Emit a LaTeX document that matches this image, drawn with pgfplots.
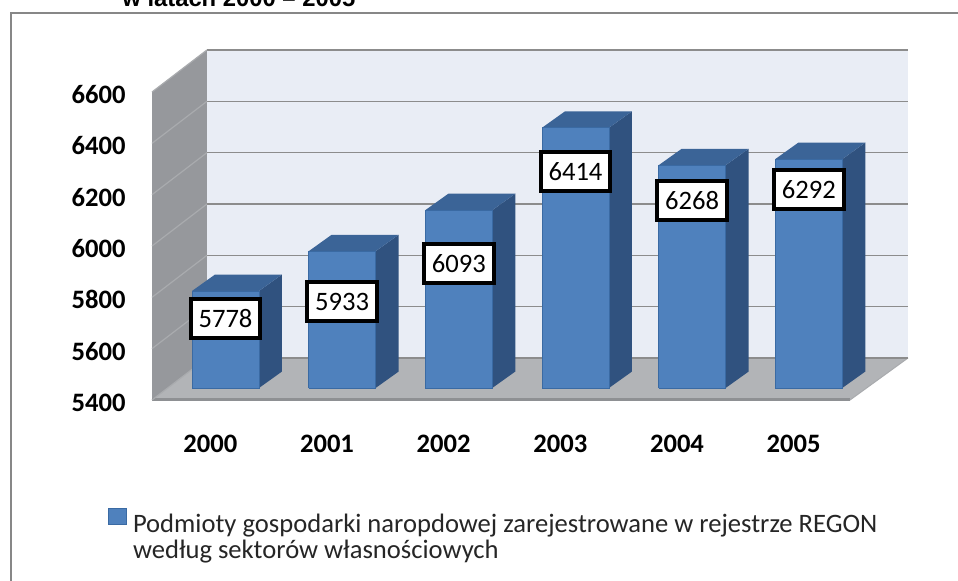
\documentclass[border=0pt]{standalone}
\usepackage{pgfplots}
\pgfplotsset{compat=1.18}
\usepackage{pgfplotstable}
\usepackage{fontspec}
\setmainfont{Carlito}
\newfontfamily\titlefont{Liberation Sans}

\definecolor{backwall}{HTML}{E9EDF5}
\definecolor{leftwall}{HTML}{96989C}
\definecolor{leftgrid}{HTML}{A9ABAE}
\definecolor{floorgray}{HTML}{B2B4B7}
\definecolor{flooredge}{HTML}{8E9093}
\definecolor{gridc}{HTML}{8C8C8C}
\definecolor{barfront}{HTML}{4F81BD}
\definecolor{barside}{HTML}{30527F}
\definecolor{bartop}{HTML}{3B6497}
\definecolor{barfrontdark}{HTML}{3A6AA3}
\definecolor{framegray}{HTML}{878787}
\definecolor{legtext}{HTML}{262626}

\pgfplotstableread{
x year v ly
0 2000 5778 5716
1 2001 5933 5782
2 2002 6093 5930
3 2003 6414 6291
4 2004 6268 6176
5 2005 6292 6219
}\data

% 3D bar: #1 = category index, #2 = value
\newcommand\barthreeD[2]{%
  \pgfmathsetmacro\xl{#1-0.157}%
  \pgfmathsetmacro\xr{#1+0.417}%
  \pgfmathsetmacro\xrr{#1+0.614}%
  \pgfmathsetmacro\xll{#1+0.040}%
  \pgfmathsetmacro\yt{#2+46.8}%
  \pgfmathsetmacro\ytt{#2+46.8+64}%
  \edef\tmp{%
    \noexpand\addplot[fill=barside, draw=none, forget plot] coordinates {(\xr,5446.8) (\xrr,5510.8) (\xrr,\ytt) (\xr,\yt) (\xr,5446.8)};
    \noexpand\addplot[fill=bartop, draw=none, forget plot] coordinates {(\xl,\yt) (\xr,\yt) (\xrr,\ytt) (\xll,\ytt) (\xl,\yt)};
    \noexpand\addplot[fill=barfront, draw=barfrontdark, line width=0.4pt, forget plot] coordinates {(\xl,5446.8) (\xr,5446.8) (\xr,\yt) (\xl,\yt) (\xl,5446.8)};
  }\tmp}

\begin{document}
\begin{tikzpicture}
\useasboundingbox (-76pt,-90.5pt) rectangle (403pt,200pt);
\clip (-76pt,-90.5pt) rectangle (403pt,200pt);
\fill[white] (-76pt,-90.5pt) rectangle (403pt,200pt);
\draw[framegray, line width=1.2pt] (-70.5pt,-130pt) -- (-70.5pt,193.5pt) -- (440pt,193.5pt);
\node[anchor=base west, inner sep=0pt, font=\titlefont\fontsize{11.9}{13}\selectfont\bfseries] at (-15pt,196.5pt) {w latach 2000 – 2005};
\begin{axis}[
  at={(0pt,0pt)}, anchor=south west,
  scale only axis, width=378pt, height=175pt,
  xmin=-0.5, xmax=5.98, ymin=5400, ymax=6763.8,
  clip=false,
  axis line style={draw=none},
  major tick length=0pt,
  ytick={5400,5600,...,6600},
  xtick={0,...,5},
  xticklabels from table={\data}{year},
  /pgf/number format/1000 sep={},
  /pgf/number format/assume math mode=true,
  yticklabel style={anchor=east, inner sep=0pt, xshift=-13pt, yshift=-1.25pt, font=\fontsize{13.3}{14}\selectfont\bfseries},
  xticklabel style={anchor=center, inner sep=0pt, yshift=-22pt, font=\fontsize{13.3}{14}\selectfont\bfseries},
  legend style={draw=none, fill=none, inner sep=0pt, outer sep=0pt,
    at={(axis description cs:-0.0582,-0.309)}, anchor=north west,
    font=\fontsize{13.3}{12}\selectfont, text=legtext,
    nodes={inner sep=0pt}},
  legend cell align=left,
]
% walls and floor
\fill[backwall] (-0.029,5563.8) rectangle (5.98,6763.8);
\fill[leftwall] (-0.5,5400) -- (-0.029,5563.8) -- (-0.029,6763.8) -- (-0.5,6600) -- cycle;
\fill[floorgray] (-0.5,5400) -- (5.483,5400) -- (5.98,5563.8) -- (-0.029,5563.8) -- cycle;
\draw[flooredge, line width=1.5pt] (-0.5,5400) -- (5.483,5400);
\draw[leftgrid, line width=0.5pt] (5.483,5400) -- (5.98,5563.8);
\pgfplotsinvokeforeach{5400,5600,...,6600}{
  \draw[gridc, line width=0.8pt] (-0.029,#1+163.8) -- (5.98,#1+163.8);
  \draw[leftgrid, line width=0.6pt] (-0.5,#1) -- (-0.029,#1+163.8);
}
% bars
\pgfplotsinvokeforeach{0,...,5}{
  \pgfplotstablegetelem{#1}{v}\of\data
  \barthreeD{#1}{\pgfplotsretval}
}
% data labels
\addplot[draw=none, mark=none, forget plot,
  nodes near coords, point meta=explicit symbolic,
  every node near coord/.append style={anchor=center, draw=black, line width=2pt,
    fill=white, inner xsep=4pt, inner ysep=0pt, minimum height=19.5pt,
    font=\fontsize{13.3}{14}\selectfont, text=black}]
  table[x expr=\thisrow{x}+0.13, y=ly, meta=v] {\data};
% legend
\addlegendimage{legend image code/.code={\draw[fill=barfront, draw=barfrontdark, line width=0.6pt] (0pt,0pt) rectangle (9pt,8pt); \path (12pt,0pt);}}
\addlegendentry{\begin{tabular}[t]{@{}l@{}}Podmioty gospodarki naropdowej zarejestrowane w rejestrze REGON\\według sektorów własnościowych\end{tabular}}
\end{axis}
\end{tikzpicture}
\end{document}
